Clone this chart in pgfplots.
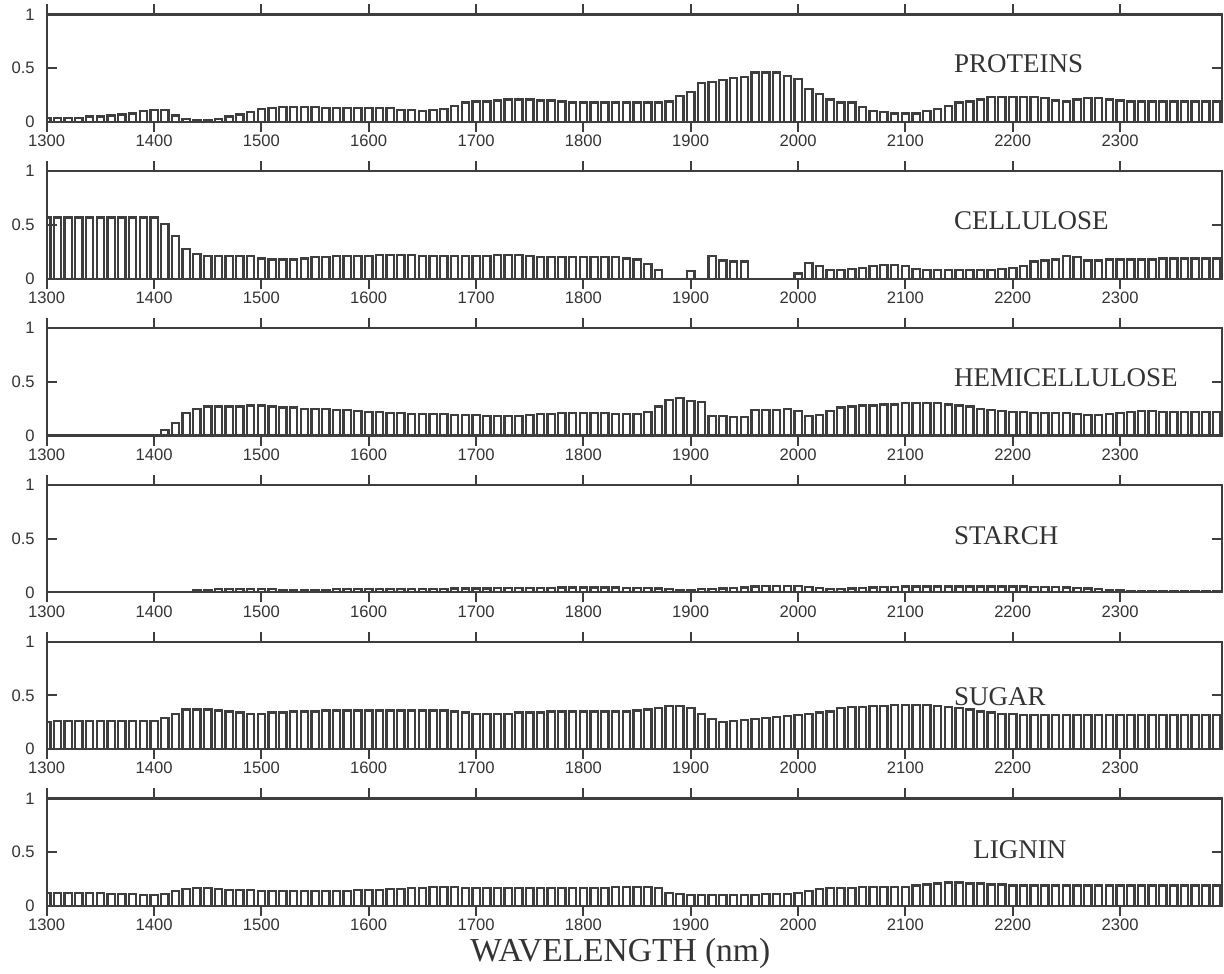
\documentclass[border=0pt]{standalone}
\usepackage{pgfplots}
\pgfplotsset{compat=1.18}
\usepackage{pgfplotstable}
\usepackage{fontspec}
\setmainfont{Liberation Serif}
\setsansfont{Liberation Sans}
\definecolor{ink}{HTML}{3E3E3E}
\definecolor{txt}{HTML}{333333}

\pgfplotstableread{
x P C H S G L
1300 .04 .57 0 0 .25 .12
1310 .04 .57 0 0 .26 .12
1320 .04 .57 0 0 .26 .12
1330 .04 .57 0 0 .26 .12
1340 .05 .57 0 0 .26 .12
1350 .05 .57 0 0 .26 .12
1360 .06 .57 0 0 .26 .11
1370 .07 .57 0 0 .26 .11
1380 .08 .57 0 0 .26 .11
1390 .10 .57 0 0 .26 .10
1400 .11 .57 0 0 .26 .10
1410 .11 .51 .05 0 .29 .11
1420 .06 .40 .12 0 .33 .14
1430 .03 .28 .21 0 .37 .16
1440 .02 .23 .25 .02 .37 .17
1450 .02 .21 .27 .025 .37 .17
1460 .03 .21 .27 .03 .36 .16
1470 .05 .21 .27 .03 .35 .15
1480 .07 .21 .27 .03 .34 .15
1490 .09 .21 .28 .03 .33 .15
1500 .12 .19 .28 .03 .33 .14
1510 .13 .18 .27 .03 .34 .14
1520 .14 .18 .26 .025 .34 .14
1530 .14 .18 .26 .025 .35 .14
1540 .14 .19 .25 .025 .35 .14
1550 .14 .20 .25 .025 .35 .14
1560 .13 .20 .25 .025 .36 .14
1570 .13 .21 .24 .03 .36 .14
1580 .13 .21 .24 .03 .36 .14
1590 .13 .21 .23 .03 .36 .15
1600 .13 .21 .22 .03 .36 .15
1610 .13 .22 .22 .03 .36 .15
1620 .13 .22 .21 .03 .36 .16
1630 .11 .22 .21 .03 .36 .16
1640 .11 .22 .20 .03 .36 .17
1650 .10 .21 .20 .03 .36 .17
1660 .11 .21 .20 .03 .36 .18
1670 .12 .21 .20 .03 .36 .18
1680 .15 .21 .19 .035 .35 .18
1690 .18 .21 .19 .035 .34 .17
1700 .19 .21 .19 .035 .33 .17
1710 .19 .21 .18 .035 .33 .17
1720 .20 .22 .18 .04 .33 .17
1730 .21 .22 .18 .04 .33 .17
1740 .21 .22 .18 .04 .34 .17
1750 .21 .21 .19 .04 .34 .17
1760 .20 .20 .20 .04 .34 .17
1770 .20 .20 .20 .04 .35 .17
1780 .19 .20 .21 .045 .35 .17
1790 .18 .20 .21 .045 .35 .17
1800 .18 .20 .21 .045 .35 .17
1810 .18 .20 .21 .045 .35 .17
1820 .18 .20 .21 .045 .35 .17
1830 .18 .20 .20 .045 .35 .18
1840 .18 .19 .20 .04 .35 .18
1850 .18 .18 .20 .04 .36 .18
1860 .18 .14 .22 .04 .37 .18
1870 .18 .08 .27 .035 .38 .17
1880 .19 0 .33 .03 .40 .12
1890 .24 0 .35 .025 .40 .11
1900 .28 .07 .32 .025 .38 .10
1910 .36 0 .31 .03 .33 .10
1920 .37 .21 .18 .03 .28 .10
1930 .39 .17 .18 .035 .25 .10
1940 .41 .16 .17 .04 .26 .10
1950 .42 .16 .17 .045 .27 .10
1960 .46 0 .24 .055 .28 .10
1970 .46 0 .24 .06 .29 .11
1980 .46 0 .24 .06 .30 .11
1990 .43 0 .25 .06 .31 .11
2000 .40 .05 .23 .06 .32 .12
2010 .31 .15 .18 .05 .33 .14
2020 .26 .12 .19 .04 .34 .16
2030 .21 .08 .23 .03 .35 .17
2040 .18 .08 .26 .03 .38 .17
2050 .18 .09 .27 .035 .39 .17
2060 .14 .10 .28 .04 .39 .18
2070 .10 .12 .28 .045 .40 .18
2080 .09 .13 .29 .05 .40 .18
2090 .08 .13 .29 .05 .41 .18
2100 .08 .12 .30 .055 .41 .18
2110 .08 .09 .30 .055 .41 .19
2120 .10 .08 .30 .055 .41 .20
2130 .12 .08 .30 .055 .40 .21
2140 .15 .08 .29 .055 .39 .22
2150 .18 .08 .28 .055 .38 .22
2160 .19 .08 .27 .055 .37 .21
2170 .21 .08 .25 .055 .35 .21
2180 .23 .08 .24 .055 .34 .20
2190 .23 .09 .23 .055 .33 .20
2200 .23 .10 .22 .055 .33 .19
2210 .23 .12 .22 .055 .32 .19
2220 .23 .16 .21 .05 .32 .19
2230 .22 .17 .21 .05 .32 .19
2240 .20 .18 .21 .05 .32 .19
2250 .19 .21 .21 .045 .32 .19
2260 .21 .20 .20 .04 .32 .19
2270 .22 .17 .19 .035 .32 .19
2280 .22 .17 .19 .03 .32 .19
2290 .21 .18 .20 .025 .32 .19
2300 .20 .18 .21 .02 .32 .19
2310 .19 .18 .22 .015 .32 .19
2320 .19 .18 .23 .015 .32 .19
2330 .19 .18 .23 .015 .32 .19
2340 .19 .19 .22 .015 .32 .19
2350 .19 .19 .22 .015 .32 .19
2360 .19 .19 .22 .015 .32 .19
2370 .19 .19 .22 .015 .32 .19
2380 .19 .19 .22 .015 .32 .19
2390 .19 .19 .22 .015 .32 .19
}\spectra

\pgfplotsset{panel/.style={
  scale only axis, width=587.65pt, height=53.75pt,
  xmin=1300, xmax=2395, ymin=0, ymax=1,
  anchor=south west,
  xtick={1300,1400,...,2300}, ytick={0,0.5,1},
  xtick pos=both, ytick pos=both, tick align=inside,
  xticklabel pos=lower, yticklabel pos=left,
  major tick length=5pt,
  axis on top,
  axis line style={ink, line width=1.1pt},
  every tick/.style={ink, line width=1pt},
  tick label style={font=\sffamily\fontsize{8.3}{9}\selectfont, text=txt},
  xticklabel style={yshift=2pt},
  yticklabel style={xshift=-2.5pt},
  /pgf/number format/assume math mode=true,
  /pgf/number format/1000 sep={},
  ybar, bar width=6.8, bar shift=0pt,
}}
\tikzset{
  lab/.style={anchor=west, inner sep=0pt, text=txt, font=\fontsize{13.5}{14}\selectfont},
  bars/.style={draw=ink, fill=white, line width=1.15pt}
}

\begin{document}
\begin{tikzpicture}
\begin{axis}[panel, at={(23.35pt,425.5pt)}]
\addplot[bars] table[x=x,y=P]{\spectra};
\node[lab] at (axis cs:2145,0.54) {PROTEINS};
\end{axis}
\begin{axis}[panel, at={(23.35pt,347.1pt)}]
\addplot[bars] table[x=x,y=C]{\spectra};
\node[lab] at (axis cs:2145,0.54) {CELLULOSE};
\end{axis}
\begin{axis}[panel, at={(23.35pt,268.7pt)}]
\addplot[bars] table[x=x,y=H]{\spectra};
\node[lab] at (axis cs:2145,0.54) {HEMICELLULOSE};
\end{axis}
\begin{axis}[panel, at={(23.35pt,190.3pt)}]
\addplot[bars] table[x=x,y=S]{\spectra};
\node[lab] at (axis cs:2145,0.53) {STARCH};
\end{axis}
\begin{axis}[panel, at={(23.35pt,111.9pt)}]
\addplot[bars] table[x=x,y=G]{\spectra};
\node[lab] at (axis cs:2145,0.49) {SUGAR};
\end{axis}
\begin{axis}[panel, at={(23.35pt,33.5pt)},
  xlabel={WAVELENGTH (nm)},
  xlabel style={font=\fontsize{16.75}{18}\selectfont, text=txt,
    at={(axis description cs:0.488,0)}, anchor=base, yshift=-27.5pt}]
\addplot[bars] table[x=x,y=L]{\spectra};
\node[lab] at (axis cs:2163,0.52) {LIGNIN};
\end{axis}
\pgfresetboundingbox
\useasboundingbox (0,0) rectangle (612pt,486.5pt);
\end{tikzpicture}
\end{document}
